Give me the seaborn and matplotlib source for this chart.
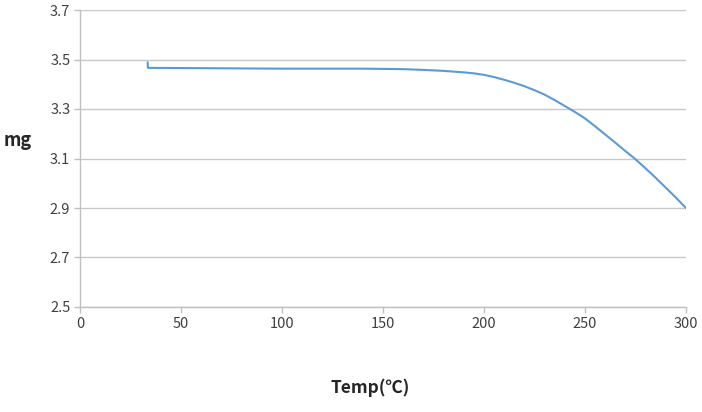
import matplotlib
matplotlib.use("Agg")
import matplotlib.pyplot as plt
import seaborn as sns
import pandas as pd

temp = [33.5, 33.6, 34.0, 40, 60, 80, 100, 120, 140, 150, 160, 170, 175, 180, 185,
        190, 195, 200, 205, 210, 215, 220, 225, 230, 235, 240, 245, 250, 255,
        260, 265, 270, 275, 280, 285, 290, 295, 300]
mass = [3.489, 3.467, 3.466, 3.466, 3.465, 3.464, 3.463, 3.463, 3.463, 3.462,
        3.461, 3.458, 3.456, 3.454, 3.451, 3.448, 3.444, 3.438, 3.429, 3.418,
        3.406, 3.392, 3.376, 3.358, 3.336, 3.312, 3.288, 3.262, 3.230, 3.197,
        3.164, 3.130, 3.097, 3.060, 3.022, 2.982, 2.942, 2.900]
xticks = [0, 50, 100, 150, 200, 250, 300]
yticks = [2.5, 2.7, 2.9, 3.1, 3.3, 3.5, 3.7]

sns.set_theme(style="white")
plt.rcParams['font.family'] = ['Noto Sans CJK KR', 'DejaVu Sans']

df = pd.DataFrame({"temp": temp, "mass": mass})
fig = plt.figure(figsize=(7.02, 4.12), dpi=100)
ax = fig.add_axes([80/702, 1-307/412, (686-80)/702, (307-10)/412])
sns.lineplot(data=df, x="temp", y="mass", ax=ax, color="#5B9BD5", linewidth=1.5, sort=False)

ax.set_xlim(0, 300)
ax.set_ylim(2.5, 3.7)
ax.set_xticks(xticks)
ax.set_yticks(yticks)
ax.set_xticklabels([str(v) for v in xticks], fontsize=10.5, color="#404040")
ax.set_yticklabels([f"{v:.1f}" for v in yticks], fontsize=10.5, color="#404040")
ax.yaxis.grid(True, color="#C8C8C8", linewidth=1)
ax.xaxis.grid(False)
for s in ["top", "right"]:
    ax.spines[s].set_visible(False)
for s in ["left", "bottom"]:
    ax.spines[s].set_color("#C0C0C0")
    ax.spines[s].set_linewidth(1)
ax.tick_params(axis="both", which="major", length=4, width=1, color="#C0C0C0",
               direction="out", left=True, bottom=True, pad=3)
ax.set_xlabel("")
ax.set_ylabel("")
fig.text(18/702, 1-140/412, "mg", fontsize=13, fontweight="bold", ha="center", va="center")
fig.text(370/702, 1-388/412, "Temp(℃)", fontsize=12.5, fontweight="bold", ha="center", va="center")

fig.savefig("out.png", dpi=100)
